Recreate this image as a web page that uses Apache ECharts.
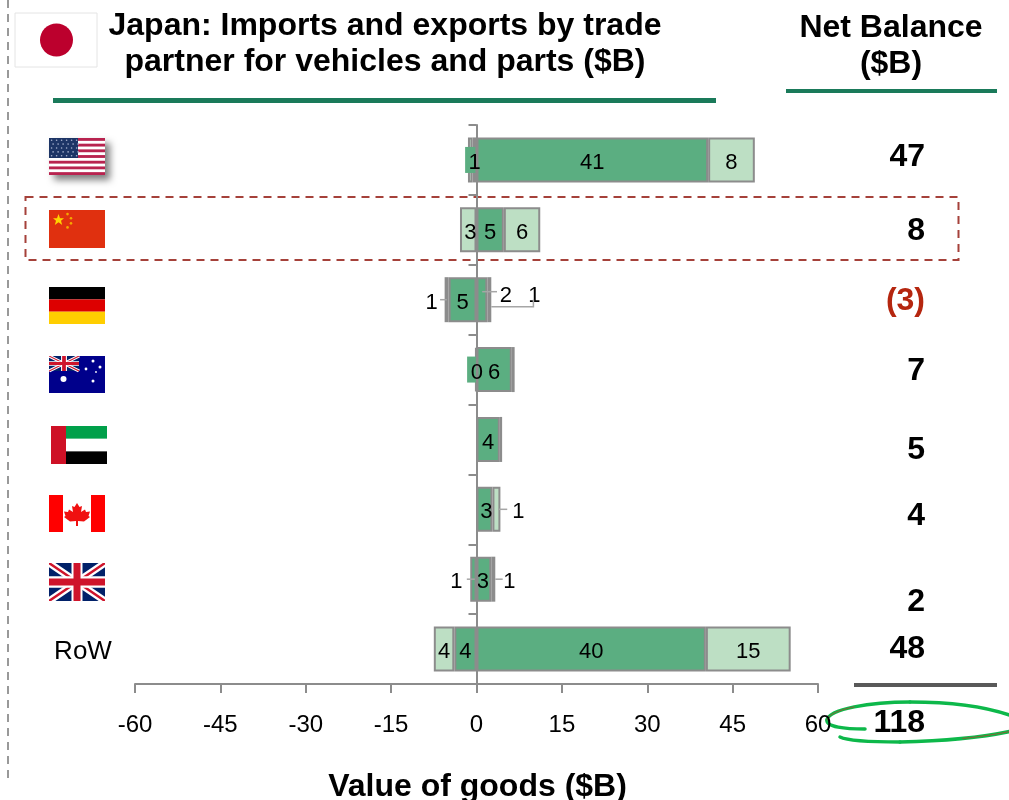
<!DOCTYPE html>
<html>
<head>
<meta charset="utf-8">
<title>Japan vehicle trade</title>
<style>html,body{margin:0;padding:0;background:#fff}#chart{width:1009px;height:800px}</style>
<script src="https://cdn.jsdelivr.net/npm/echarts@6/dist/echarts.min.js"></script>
</head>
<body>
<div id="chart"></div>
<script>
// Trade values in $B; imports are negative, inner segments sit next to the axis.
const partners = ['United States', 'China', 'Germany', 'Australia', 'UAE', 'Canada', 'United Kingdom', 'RoW'];
const importsInner = [-0.7, null, -4.9, -0.2, null, null, -1.1, -3.9];
const importsOuter = [-0.8, -2.9, -0.7, null, null, null, null, -3.6];
const exportsInner = [40.7, 4.8, 1.9, 6.2, 4.1, 2.8, 2.6, 40.3];
const exportsOuter = [8.2, 6.4, 0.7, 0.5, 0.4, 1.4, 0.7, 14.9];
const netBalance = [47, 8, -3, 7, 5, 4, 2, 48];
const netTotal = 118;
const xTickStep = 15;

const FONT = '"Liberation Sans", Arial, sans-serif';
const DARK = '#5BAE81';
const LIGHT = '#BDDFC4';
const EDGE = '#8C8C8C';
const TEAL = '#1A7A5A';
const LABEL_DROP = 3;

// Labels hidden on slivers, and labels pushed outside narrow segments.
const hiddenLabels = { importsOuter: [0, 3], exportsOuter: [3, 4] };
const labelShift = {
  importsInner: { 6: [-17, 0] },
  importsOuter: { 1: [2, 0], 2: [-15, 0] },
  exportsInner: { 2: [24, -7], 5: [2, 0], 6: [-1, 0] },
  exportsOuter: { 2: [45, -7], 5: [22, 0], 6: [16, 0] }
};
// Small label tabs for imports too thin to hold their own number.
const labelTabs = [
  { cat: 0, value: importsInner[0], from: -2, to: -0.2, textAt: -0.35 },
  { cat: 3, value: importsInner[3], from: -1.65, to: -0.1, textAt: 0.05 }
];
// Leader lines: value range along x, pixel shift from row centre, optional elbow.
const leaders = [
  { cat: 2, from: -6.4, to: -5.2, dy: 0 },
  { cat: 2, from: 1, to: 3.6, dy: -8 },
  { cat: 2, from: 2.6, to: 10, dy: 7, rise: -7 },
  { cat: 5, from: 3.8, to: 5.4, dy: 0 },
  { cat: 6, from: -1.7, to: -0.3, dy: 0 },
  { cat: 6, from: 3.3, to: 4.6, dy: 0 }
];

function svgUri(body) {
  return 'data:image/svg+xml;charset=utf-8,' + encodeURIComponent(
    '<svg xmlns="http://www.w3.org/2000/svg" width="56" height="37" viewBox="0 0 56 37">' + body + '</svg>');
}
function starDots(color) {
  let s = '';
  for (let r = 0; r < 5; r++) for (let c = 0; c < 6; c++) {
    s += '<circle cx="' + (2.6 + c * 5 + (r % 2) * 1.5) + '" cy="' + (2.2 + r * 3.9) + '" r="0.8" fill="' + color + '"/>';
  }
  return s;
}
function usFlag() {
  let s = '<rect width="56" height="37" fill="#fff"/>';
  for (let i = 0; i < 7; i++) s += '<rect y="' + (i * 5.69) + '" width="56" height="2.85" fill="#B8234F"/>';
  return s + '<rect width="29" height="20" fill="#1D3566"/>' + starDots('#A9B4D0');
}
function jack(w, h) {
  return '<g transform="scale(' + (w / 56) + ',' + (h / 37) + ')">' +
    '<rect width="56" height="37" fill="#012169"/>' +
    '<path d="M0 0L56 37M56 0L0 37" stroke="#fff" stroke-width="7"/>' +
    '<path d="M0 0L56 37M56 0L0 37" stroke="#CF142B" stroke-width="2.4"/>' +
    '<path d="M28 0V37M0 18.5H56" stroke="#fff" stroke-width="11"/>' +
    '<path d="M28 0V37M0 18.5H56" stroke="#CF142B" stroke-width="7"/></g>';
}
function dots(list, fill) {
  return list.map(p => '<circle cx="' + p[0] + '" cy="' + p[1] + '" r="' + p[2] + '" fill="' + fill + '"/>').join('');
}
const flags = [
  { x: 49, y: 138, h: 37, shadow: true, uri: svgUri(usFlag()) },
  { x: 49, y: 210, h: 38, uri: svgUri('<rect width="56" height="37" fill="#E0300F"/>' +
      '<polygon fill="#FFD400" points="9.5,4 11,8 15,8 12,10.5 13.2,14.5 9.5,12 5.8,14.5 7,10.5 4,8 8,8"/>' +
      dots([[18.5, 4, 1.3], [22, 8, 1.3], [22, 13, 1.3], [18.5, 17, 1.3]], '#F5A800')) },
  { x: 49, y: 287, h: 37, uri: svgUri('<rect width="56" height="12.4" fill="#000"/><rect y="12.4" width="56" height="12.3" fill="#DD0000"/><rect y="24.7" width="56" height="12.3" fill="#FFCE00"/>') },
  { x: 49, y: 356, h: 37, uri: svgUri('<rect width="56" height="37" fill="#00008B"/>' + jack(30, 15) +
      dots([[14.5, 23, 3], [44, 5, 1.5], [37, 13, 1.4], [51, 11, 1.5], [47, 16, 0.9], [44, 25, 1.5]], '#fff')) },
  { x: 51, y: 426, h: 38, uri: svgUri('<rect width="56" height="37" fill="#fff"/><rect width="56" height="12.3" fill="#00A04A"/><rect y="24.7" width="56" height="12.3" fill="#000"/><rect width="15" height="37" fill="#CE1126"/>') },
  { x: 49, y: 495, h: 37, uri: svgUri('<rect width="56" height="37" fill="#fff"/><rect width="14" height="37" fill="#FF0000"/><rect x="42" width="14" height="37" fill="#FF0000"/>' +
      '<polygon fill="#F01010" points="28,8 30.5,12 33,11 32,17 36,14.5 37,17 41,16.5 39.5,21 41,22 35,26.5 29,26 29,31 27,31 27,26 21,26.5 15,22 16.5,21 15,16.5 19,17 20,14.5 24,17 23,11 25.5,12"/>') },
  { x: 49, y: 563, h: 38, uri: svgUri(jack(56, 37)) }
];

function segmentSeries(name, values, fill) {
  const hidden = hiddenLabels[name] || [];
  const shifts = labelShift[name] || {};
  const tabbed = name === 'importsInner' ? labelTabs.map(t => t.cat) : [];
  return {
    name: name,
    type: 'bar',
    stack: 'trade',
    z: 2,
    barWidth: 45,
    itemStyle: { color: fill, borderColor: EDGE, borderWidth: 2 },
    label: {
      show: true,
      position: 'inside',
      offset: [0, LABEL_DROP],
      color: '#000',
      fontFamily: FONT,
      fontSize: 22,
      formatter: p => String(Math.abs(Math.round(p.value)))
    },
    data: values.map((v, i) => {
      const item = { value: v };
      const off = hidden.includes(i) || tabbed.includes(i);
      if (off) item.label = { show: false };
      else if (shifts[i]) item.label = { show: true, offset: [shifts[i][0], shifts[i][1] + LABEL_DROP] };
      return item;
    })
  };
}

// Leader lines and label tabs are placed through the axes so they follow the scale.
const annotationSeries = {
  type: 'custom',
  z: 4,
  silent: true,
  coordinateSystem: 'cartesian2d',
  encode: { x: 0, y: 1 },
  data: [[0, 0]],
  renderItem: function (params, api) {
    const children = [];
    leaders.forEach(l => {
      const a = api.coord([l.from, l.cat]);
      const b = api.coord([l.to, l.cat]);
      const pts = [[a[0], a[1] + l.dy], [b[0], b[1] + l.dy]];
      if (l.rise) pts.push([b[0], b[1] + l.dy + l.rise]);
      children.push({ type: 'polyline', shape: { points: pts }, style: { stroke: '#A6A6A6', lineWidth: 1.5, fill: null } });
    });
    labelTabs.forEach(t => {
      const a = api.coord([t.from, t.cat]);
      const b = api.coord([t.to, t.cat]);
      const mid = api.coord([t.textAt, t.cat]);
      children.push({ type: 'rect', shape: { x: a[0], y: a[1] - 13, width: b[0] - a[0], height: 26 }, style: { fill: DARK } });
      children.push({
        type: 'text',
        style: { text: String(Math.abs(Math.round(t.value))), x: mid[0], y: mid[1] + LABEL_DROP, fill: '#000', font: '22px ' + FONT, textAlign: 'center', textVerticalAlign: 'middle' }
      });
    });
    return { type: 'group', children: children };
  }
};

// Net balance figures, all right-aligned in a column beside the plot.
const balanceRowY = [157, 231, 301, 371, 450, 516, 602, 649];
const balanceRight = 925;
function balanceText(v) { return v < 0 ? '(' + Math.abs(v) + ')' : String(v); }
const balanceGraphics = netBalance.map((v, i) => ({
  type: 'text',
  style: {
    text: balanceText(v), x: balanceRight, y: balanceRowY[i],
    font: 'bold 32px ' + FONT, fill: v < 0 ? '#B5260F' : '#000',
    textAlign: 'right', textVerticalAlign: 'middle'
  }
}));

const flagGraphics = [];
flags.forEach(f => {
  if (f.shadow) {
    flagGraphics.push({
      type: 'rect', shape: { x: f.x, y: f.y, width: 56, height: f.h },
      style: { fill: '#fff', shadowBlur: 7, shadowOffsetX: 5, shadowOffsetY: 5, shadowColor: 'rgba(0,0,0,0.5)' }
    });
  }
  flagGraphics.push({ type: 'image', style: { image: f.uri, x: f.x, y: f.y, width: 56, height: f.h } });
});

// Hand-drawn ring around the total, as cubic strokes.
function stroke(x1, y1, cpx1, cpy1, cpx2, cpy2, x2, y2, color, width) {
  return {
    type: 'bezierCurve',
    shape: { x1, y1, cpx1, cpy1, cpx2, cpy2, x2, y2 },
    style: { fill: null, stroke: color, lineWidth: width, lineCap: 'round' }
  };
}
const RING = '#0DB84A';
const ringGraphics = [
  stroke(865, 729, 845, 729, 826, 727, 827, 720, RING, 3.5),
  stroke(827, 720, 829, 709, 870, 702, 910, 702, RING, 3.5),
  stroke(910, 702, 955, 702, 990, 708, 1012, 716, RING, 3.5),
  stroke(1012, 731, 985, 737, 945, 741, 900, 742, RING, 3.5),
  stroke(900, 742, 870, 742, 848, 741, 840, 737, RING, 3.5),
  stroke(827, 720, 828, 714.5, 838.75, 710, 854.25, 706.9, '#C0392B', 0.7),
  stroke(1012, 731, 998.5, 734, 981.75, 736.5, 962.75, 738.4, '#C0392B', 0.7)
];

const chart = echarts.init(document.getElementById('chart'), null, { renderer: 'canvas' });
chart.setOption({
  animation: false,
  backgroundColor: '#fff',
  title: [
    {
      text: 'Japan: Imports and exports by trade\npartner for vehicles and parts ($B)',
      left: 380, top: 3, textAlign: 'center',
      textStyle: { fontFamily: FONT, fontWeight: 'bold', fontSize: 32, lineHeight: 36, color: '#000' }
    },
    {
      text: 'Net Balance\n($B)',
      left: 886, top: 5, textAlign: 'center',
      textStyle: { fontFamily: FONT, fontWeight: 'bold', fontSize: 32, lineHeight: 36, color: '#000' }
    }
  ],
  grid: { left: 135, width: 683, top: 125, height: 559, containLabel: false, outerBoundsMode: 'none' },
  xAxis: {
    type: 'value',
    min: -60, max: 60, interval: xTickStep,
    splitLine: { show: false },
    axisLine: { show: true, onZero: false, lineStyle: { color: EDGE, width: 2 } },
    axisTick: { show: true, length: 9, lineStyle: { color: EDGE, width: 2 } },
    axisLabel: { color: '#000', fontFamily: FONT, fontSize: 24, margin: 29 },
    name: 'Value of goods ($B)',
    nameLocation: 'middle',
    nameGap: 87,
    nameTextStyle: { color: '#000', fontFamily: FONT, fontWeight: 'bold', fontSize: 32, padding: [0, 0, 0, 2] }
  },
  yAxis: {
    type: 'category',
    inverse: true,
    data: partners,
    z: 3,
    axisLine: { show: true, onZero: true, lineStyle: { color: EDGE, width: 2 } },
    axisTick: { show: true, length: 8, lineStyle: { color: EDGE, width: 2 } },
    axisLabel: { show: false },
    splitLine: { show: false }
  },
  series: [
    segmentSeries('importsInner', importsInner, DARK),
    segmentSeries('importsOuter', importsOuter, LIGHT),
    segmentSeries('exportsInner', exportsInner, DARK),
    segmentSeries('exportsOuter', exportsOuter, LIGHT),
    annotationSeries
  ],
  graphic: [
    { type: 'line', shape: { x1: 8, y1: 0, x2: 8, y2: 780 }, style: { stroke: '#999999', lineWidth: 2, lineDash: [8, 6] } },
    { type: 'rect', shape: { x: 15, y: 13, width: 82, height: 54 }, style: { fill: '#fff', stroke: '#E4E4E4', lineWidth: 1 } },
    { type: 'circle', shape: { cx: 56.5, cy: 40, r: 16.5 }, style: { fill: '#BC002D' } },
    { type: 'rect', shape: { x: 53, y: 98, width: 663, height: 5 }, style: { fill: TEAL } },
    { type: 'rect', shape: { x: 786, y: 89, width: 211, height: 4 }, style: { fill: TEAL } },
    { type: 'rect', shape: { x: 25.5, y: 197, width: 933, height: 63 }, style: { fill: null, stroke: '#A5413A', lineWidth: 2, lineDash: [8, 6] } },
    { type: 'rect', shape: { x: 854, y: 683, width: 143, height: 4 }, style: { fill: '#595959' } },
    { type: 'text', style: { text: 'RoW', x: 83, y: 652, font: '26px ' + FONT, fill: '#000', textAlign: 'center', textVerticalAlign: 'middle' } },
    ...flagGraphics,
    ...balanceGraphics,
    { type: 'text', style: { text: String(netTotal), x: balanceRight, y: 723, font: 'bold 32px ' + FONT, fill: '#000', textAlign: 'right', textVerticalAlign: 'middle' } },
    ...ringGraphics
  ]
});
</script>
</body>
</html>
